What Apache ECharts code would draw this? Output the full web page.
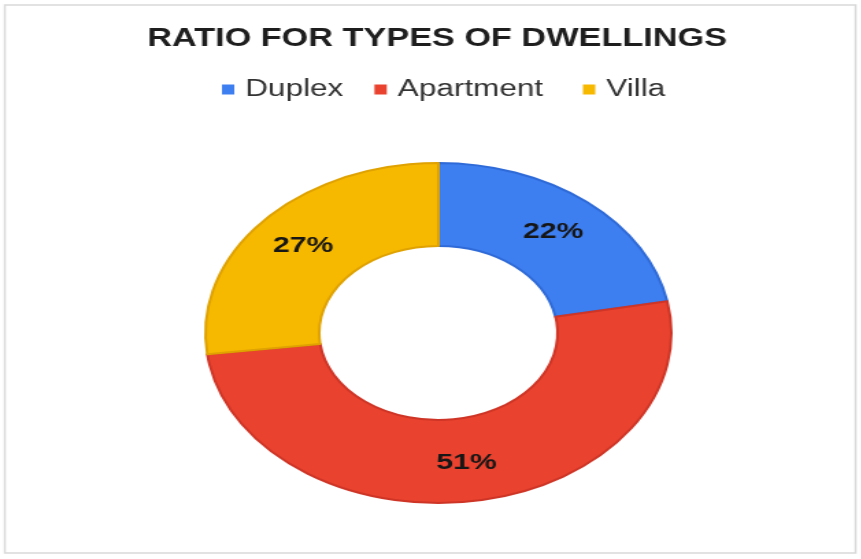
<!DOCTYPE html>
<html>
<head>
<meta charset="utf-8">
<script src="https://cdn.jsdelivr.net/npm/echarts@6/dist/echarts.min.js"></script>
<style>
  html, body { margin: 0; padding: 0; background: #ffffff; overflow: hidden; }
  #chart {
    width: 628px;
    height: 559px;
    transform: scaleX(1.37);
    transform-origin: 0 0;
  }
</style>
</head>
<body>
<div id="chart"></div>
<script>
// Dwelling types and their share of the total (percent)
var categories = ['Duplex', 'Apartment', 'Villa'];
var shares = [22, 51, 27];
var titleText = 'RATIO FOR TYPES OF DWELLINGS';

var fills = ['#3d7ef0', '#e9432f', '#f7b800'];
var edges = ['#2f6bd8', '#cf3526', '#dfa200'];

var chart = echarts.init(document.getElementById('chart'), null, { renderer: 'canvas' });

var pieData = categories.map(function (name, i) {
  return {
    name: name,
    value: shares[i],
    itemStyle: { color: fills[i], borderColor: edges[i], borderWidth: 2 }
  };
});

var legendFont = 'Liberation Sans, Arial, sans-serif';
var legendData = categories.map(function (name, i) {
  return {
    name: name,
    itemStyle: { color: fills[i], borderWidth: 0 },
    textStyle: {
      fontFamily: legendFont,
      fontSize: 23,
      color: '#333333',
      padding: [0, 0, 0, 3]
    }
  };
});

chart.setOption({
  backgroundColor: '#ffffff',
  animation: false,
  graphic: [{
    type: 'rect',
    shape: { x: 3.5, y: 5, width: 621, height: 548 },
    style: { fill: 'none', stroke: '#d9d9d9', lineWidth: 1.5 },
    silent: true
  }],
  title: {
    text: titleText,
    left: 314,
    textAlign: 'center',
    top: 22,
    textStyle: {
      fontFamily: 'Liberation Sans, Arial, sans-serif',
      fontSize: 25,
      fontWeight: 'bold',
      color: '#1e1e1e'
    }
  },
  legend: {
    data: legendData,
    left: 157,
    top: 73,
    itemWidth: 9,
    itemHeight: 10,
    itemGap: 22.7,
    icon: 'rect',
    itemStyle: { borderWidth: 0 },
    // the middle entry carries a little extra room after it
    formatter: function (name) {
      return name === categories[1] ? name + ' ' : name;
    },
    textStyle: {
      fontFamily: legendFont,
      fontSize: 23,
      color: '#333333'
    }
  },
  series: [{
    type: 'pie',
    center: [320, 333],
    radius: [87, 170],
    startAngle: 90,
    clockwise: true,
    avoidLabelOverlap: false,
    label: {
      show: true,
      position: 'inside',
      formatter: '{c}%',
      fontFamily: 'Liberation Sans, Arial, sans-serif',
      fontSize: 22,
      fontWeight: 'bold',
      color: '#161616'
    },
    labelLine: { show: false },
    emphasis: { disabled: true },
    data: pieData
  }]
});
</script>
</body>
</html>
